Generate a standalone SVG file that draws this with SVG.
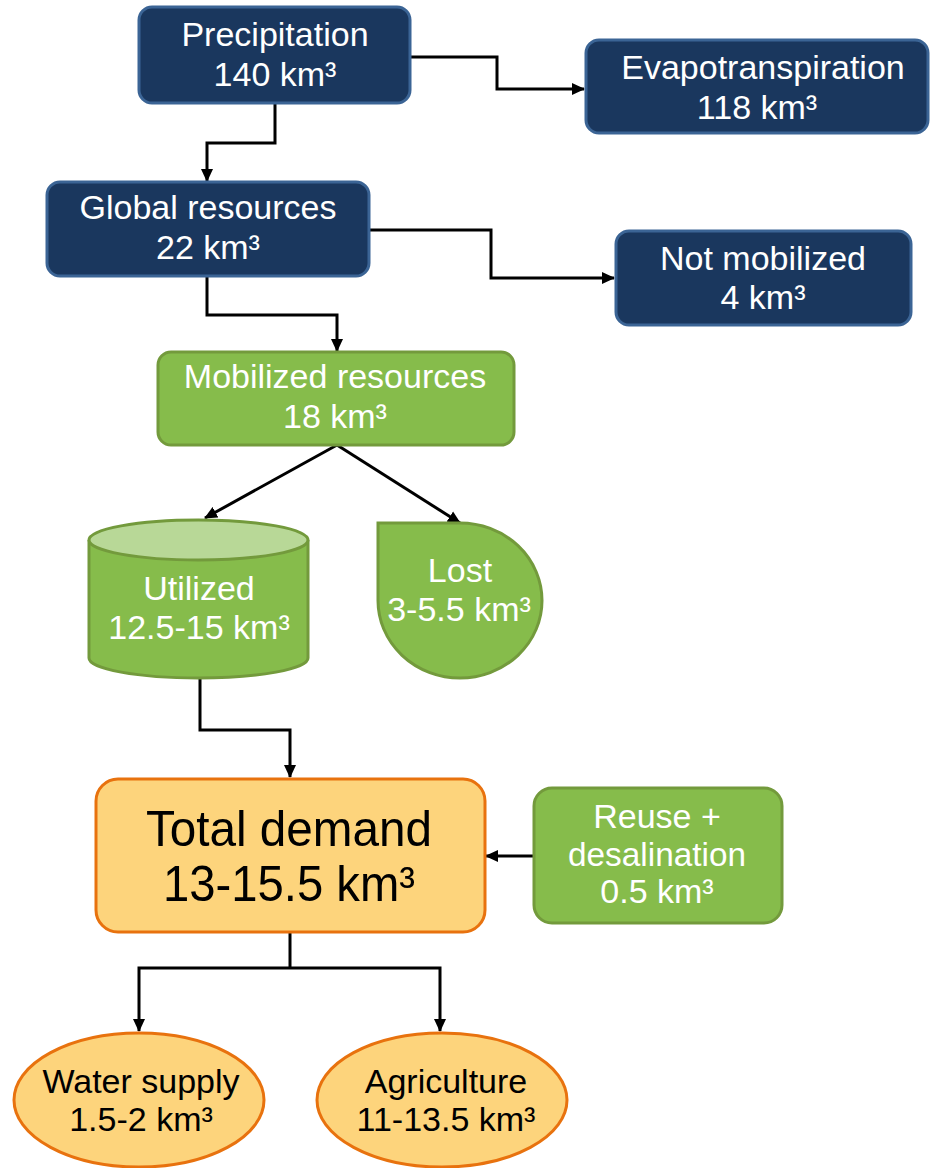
<svg xmlns="http://www.w3.org/2000/svg" width="930" height="1168" viewBox="0 0 930 1168">
<defs>
<marker id="ah" markerUnits="userSpaceOnUse" markerWidth="13" markerHeight="13" viewBox="0 0 13 13" refX="12" refY="6.5" orient="auto">
<path d="M0,0.5 L13,6.5 L0,12.5 Z" fill="#000"/>
</marker>
<style>
.navy{fill:#1A375E;stroke:#3B6495;stroke-width:3}
.green{fill:#86BC4B;stroke:#739A3C;stroke-width:3}
.orange{fill:#FDD47C;stroke:#E8720E;stroke-width:3}
.w{font-family:"Liberation Sans",Arial,sans-serif;font-size:34px;fill:#fff;text-anchor:middle}
.b{font-family:"Liberation Sans",Arial,sans-serif;font-size:34px;fill:#000;text-anchor:middle}
.big{font-size:50px}
.conn{fill:none;stroke:#000;stroke-width:3;marker-end:url(#ah)}
</style>
</defs>
<g id="connectors">
<path class="conn" d="M410,57 H497 V89 H584"/>
<path class="conn" d="M275,104 V143 H207 V181"/>
<path class="conn" d="M369,230 H491 V278 H614"/>
<path class="conn" d="M207,276 V315 H337 V351"/>
<path class="conn" d="M337,445 L205,518"/>
<path class="conn" d="M337,445 L460,523"/>
<path class="conn" d="M200,678 V730 H290 V777"/>
<path class="conn" d="M533,856 H486"/>
<path fill="none" stroke="#000" stroke-width="3" d="M290,932 V968"/>
<path class="conn" d="M290,968 H139 V1031"/>
<path class="conn" d="M290,968 H440 V1031"/>
</g>
<g id="precipitation">
<rect class="navy" x="139" y="7" width="271" height="96" rx="13"/>
<text class="w" x="275" y="46">Precipitation</text>
<text class="w" x="275" y="86">140 km³</text>
</g>
<g id="evapotranspiration">
<rect class="navy" x="586" y="40" width="342" height="93" rx="13"/>
<text class="w" x="763" y="79">Evapotranspiration</text>
<text class="w" x="757" y="119">118 km³</text>
</g>
<g id="global-resources">
<rect class="navy" x="47" y="182" width="322" height="94" rx="13"/>
<text class="w" x="208" y="219">Global resources</text>
<text class="w" x="208" y="259">22 km³</text>
</g>
<g id="not-mobilized">
<rect class="navy" x="616" y="231" width="295" height="94" rx="13"/>
<text class="w" x="763" y="270">Not mobilized</text>
<text class="w" x="763" y="309">4 km³</text>
</g>
<g id="mobilized-resources">
<rect class="green" x="158" y="352" width="356" height="93" rx="13"/>
<text class="w" x="335" y="388">Mobilized resources</text>
<text class="w" x="335" y="428">18 km³</text>
</g>
<g id="utilized">
<path class="green" d="M89,540 V658 A109.5,20 0 0 0 308,658 V540"/>
<ellipse cx="198.5" cy="540" rx="109.5" ry="20" fill="#B8D897" stroke="#739A3C" stroke-width="3"/>
<text class="w" x="199" y="600">Utilized</text>
<text class="w" x="199" y="639">12.5-15 km³</text>
</g>
<g id="lost">
<path class="green" d="M378,523 H460 A82,77.5 0 0 1 542,600.5 A82,77.5 0 0 1 460,678 A82,77.5 0 0 1 378,600.5 Z"/>
<text class="w" x="460" y="582">Lost</text>
<text class="w" x="459" y="621">3-5.5 km³</text>
</g>
<g id="total-demand">
<rect class="orange" x="96" y="779" width="389" height="153" rx="22"/>
<text class="b big" x="289" y="846" textLength="286" lengthAdjust="spacingAndGlyphs">Total demand</text>
<text class="b big" x="289" y="901" textLength="252" lengthAdjust="spacingAndGlyphs">13-15.5 km³</text>
</g>
<g id="reuse-desalination">
<rect class="green" x="534" y="788" width="248" height="135" rx="18"/>
<text class="w" x="657" y="828">Reuse +</text>
<text class="w" x="657" y="866" textLength="178" lengthAdjust="spacingAndGlyphs">desalination</text>
<text class="w" x="657" y="903">0.5 km³</text>
</g>
<g id="water-supply">
<ellipse class="orange" cx="139" cy="1100" rx="125" ry="67"/>
<text class="b" x="141" y="1093">Water supply</text>
<text class="b" x="141" y="1131">1.5-2 km³</text>
</g>
<g id="agriculture">
<ellipse class="orange" cx="442" cy="1100" rx="125" ry="67"/>
<text class="b" x="446" y="1093">Agriculture</text>
<text class="b" x="446" y="1131">11-13.5 km³</text>
</g>
</svg>
